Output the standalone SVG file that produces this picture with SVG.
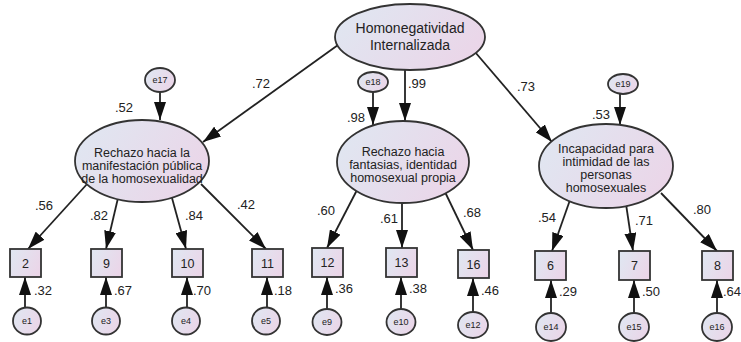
<svg xmlns="http://www.w3.org/2000/svg" width="741" height="342" viewBox="0 0 741 342">
<defs>
<linearGradient id="g" x1="0" y1="0.3" x2="1" y2="0.7">
<stop offset="0" stop-color="#e0e6f1"/>
<stop offset="1" stop-color="#ebd5e8"/>
</linearGradient>
<marker id="ah" markerUnits="userSpaceOnUse" markerWidth="18" markerHeight="12" refX="18" refY="6" orient="auto">
<path d="M0,0 L18,6 L0,12 z" fill="#111"/>
</marker>
</defs>
<style>
.n{fill:url(#g);stroke:#333;stroke-width:1.8}
.t{font-family:"Liberation Sans",Arial,sans-serif;fill:#222;text-anchor:middle}
.lat{font-size:12.5px}
.obs{font-size:12.5px}
.err{font-size:9px}
.lbl{font-family:"Liberation Sans",Arial,sans-serif;fill:#222;font-size:13px}
.c line{stroke:#222;stroke-width:1.8;marker-end:url(#ah)}
</style>
<rect width="741" height="342" fill="#fff"/>
<g class="c">
<line x1="338" y1="45" x2="203" y2="142"/>
<line x1="405" y1="70" x2="405" y2="121"/>
<line x1="475" y1="52" x2="552" y2="142"/>
<line x1="160" y1="92" x2="160" y2="120"/>
<line x1="373" y1="92" x2="373" y2="125"/>
<line x1="620" y1="94" x2="620" y2="125"/>
<line x1="88" y1="183" x2="28" y2="249"/>
<line x1="118" y1="198" x2="106" y2="249"/>
<line x1="172" y1="198" x2="186" y2="249"/>
<line x1="201" y1="184" x2="266" y2="249"/>
<line x1="357" y1="190" x2="327" y2="248"/>
<line x1="402" y1="203" x2="402" y2="248"/>
<line x1="445" y1="192" x2="473" y2="250"/>
<line x1="570" y1="200" x2="552" y2="251"/>
<line x1="626" y1="204" x2="633" y2="251"/>
<line x1="661" y1="193" x2="717" y2="251"/>
<line x1="25" y1="308" x2="25" y2="277"/>
<line x1="106" y1="308" x2="106" y2="277"/>
<line x1="187" y1="308" x2="187" y2="277"/>
<line x1="267" y1="308" x2="267" y2="277"/>
<line x1="327" y1="309" x2="327" y2="277"/>
<line x1="401" y1="309" x2="401" y2="277"/>
<line x1="473" y1="312" x2="473" y2="278"/>
<line x1="551" y1="313" x2="551" y2="280"/>
<line x1="634" y1="313" x2="634" y2="280"/>
<line x1="717" y1="313" x2="717" y2="280"/>
</g>
<g id="HI"><ellipse class="n" cx="410" cy="37" rx="75" ry="33"/><text class="t" font-size="14" x="410" y="33">Homonegatividad</text><text class="t" font-size="14" x="410" y="50">Internalizada</text></g>
<g id="F1"><ellipse class="n" cx="142" cy="161" rx="67" ry="41"/><text class="t lat" x="142" y="157">Rechazo hacia la</text><text class="t lat" x="142" y="170">manifestación pública</text><text class="t lat" x="142" y="183">de la homosexualidad</text></g>
<g id="F2"><ellipse class="n" cx="403" cy="162" rx="66" ry="41"/><text class="t lat" x="403" y="156">Rechazo hacia</text><text class="t lat" x="403" y="169">fantasias, identidad</text><text class="t lat" x="403" y="182">homosexual propia</text></g>
<g id="F3"><ellipse class="n" cx="606" cy="166" rx="67" ry="42"/><text class="t lat" x="606" y="153">Incapacidad para</text><text class="t lat" x="606" y="166">intimidad de las</text><text class="t lat" x="606" y="179">personas</text><text class="t lat" x="606" y="192">homosexuales</text></g>
<g id="e17"><ellipse class="n" cx="160" cy="80" rx="15" ry="12"/><text class="t err" x="160" y="83">e17</text></g>
<g id="e18"><ellipse class="n" cx="373" cy="82" rx="15" ry="10"/><text class="t err" x="373" y="85">e18</text></g>
<g id="e19"><ellipse class="n" cx="623" cy="84" rx="15" ry="10"/><text class="t err" x="623" y="87">e19</text></g>
<g id="v2"><rect class="n" x="10" y="249" width="31" height="28"/><text class="t obs" x="25.5" y="267.5">2</text></g>
<g id="v9"><rect class="n" x="91" y="249" width="31" height="28"/><text class="t obs" x="106.5" y="267.5">9</text></g>
<g id="v10"><rect class="n" x="172" y="249" width="31" height="28"/><text class="t obs" x="187.5" y="267.5">10</text></g>
<g id="v11"><rect class="n" x="252" y="249" width="31" height="28"/><text class="t obs" x="267.5" y="267.5">11</text></g>
<g id="v12"><rect class="n" x="312" y="248" width="31" height="29"/><text class="t obs" x="327.5" y="267">12</text></g>
<g id="v13"><rect class="n" x="386" y="248" width="31" height="29"/><text class="t obs" x="401.5" y="267">13</text></g>
<g id="v16"><rect class="n" x="458" y="250" width="31" height="28"/><text class="t obs" x="473.5" y="268.5">16</text></g>
<g id="v6"><rect class="n" x="535" y="251" width="31" height="29"/><text class="t obs" x="550.5" y="270">6</text></g>
<g id="v7"><rect class="n" x="619" y="251" width="31" height="29"/><text class="t obs" x="634.5" y="270">7</text></g>
<g id="v8"><rect class="n" x="702" y="251" width="31" height="29"/><text class="t obs" x="717.5" y="270">8</text></g>
<g id="e1"><ellipse class="n" cx="27" cy="321" rx="14" ry="13.5"/><text class="t err" x="27" y="324">e1</text></g>
<g id="e3"><ellipse class="n" cx="106" cy="321" rx="14" ry="13.5"/><text class="t err" x="106" y="324">e3</text></g>
<g id="e4"><ellipse class="n" cx="186" cy="321" rx="14" ry="13.5"/><text class="t err" x="186" y="324">e4</text></g>
<g id="e5"><ellipse class="n" cx="266" cy="321" rx="14" ry="13.5"/><text class="t err" x="266" y="324">e5</text></g>
<g id="e9"><ellipse class="n" cx="327" cy="322" rx="14.5" ry="13"/><text class="t err" x="327" y="325">e9</text></g>
<g id="e10"><ellipse class="n" cx="401" cy="322" rx="14.5" ry="13"/><text class="t err" x="401" y="325">e10</text></g>
<g id="e12"><ellipse class="n" cx="473" cy="325" rx="15" ry="13"/><text class="t err" x="473" y="328">e12</text></g>
<g id="e14"><ellipse class="n" cx="551" cy="327" rx="15" ry="14"/><text class="t err" x="551" y="330">e14</text></g>
<g id="e15"><ellipse class="n" cx="634" cy="327" rx="15" ry="14"/><text class="t err" x="634" y="330">e15</text></g>
<g id="e16"><ellipse class="n" cx="717" cy="327" rx="15" ry="14"/><text class="t err" x="717" y="330">e16</text></g>
<g id="labels">
<text class="lbl" x="252" y="88">.72</text>
<text class="lbl" x="408" y="88">.99</text>
<text class="lbl" x="517" y="91">.73</text>
<text class="lbl" x="115" y="112">.52</text>
<text class="lbl" x="347" y="122">.98</text>
<text class="lbl" x="592" y="119">.53</text>
<text class="lbl" x="35" y="210">.56</text>
<text class="lbl" x="90" y="220">.82</text>
<text class="lbl" x="185" y="220">.84</text>
<text class="lbl" x="237" y="209">.42</text>
<text class="lbl" x="317" y="215">.60</text>
<text class="lbl" x="380" y="223">.61</text>
<text class="lbl" x="463" y="217">.68</text>
<text class="lbl" x="538" y="222">.54</text>
<text class="lbl" x="635" y="225">.71</text>
<text class="lbl" x="693" y="214">.80</text>
<text class="lbl" x="34" y="295">.32</text>
<text class="lbl" x="114" y="295">.67</text>
<text class="lbl" x="193" y="295">.70</text>
<text class="lbl" x="274" y="295">.18</text>
<text class="lbl" x="335" y="293">.36</text>
<text class="lbl" x="409" y="293">.38</text>
<text class="lbl" x="481" y="295">.46</text>
<text class="lbl" x="559" y="296">.29</text>
<text class="lbl" x="642" y="296">.50</text>
<text class="lbl" x="723" y="296" font-size="12.5">.64</text>
</g>
</svg>
